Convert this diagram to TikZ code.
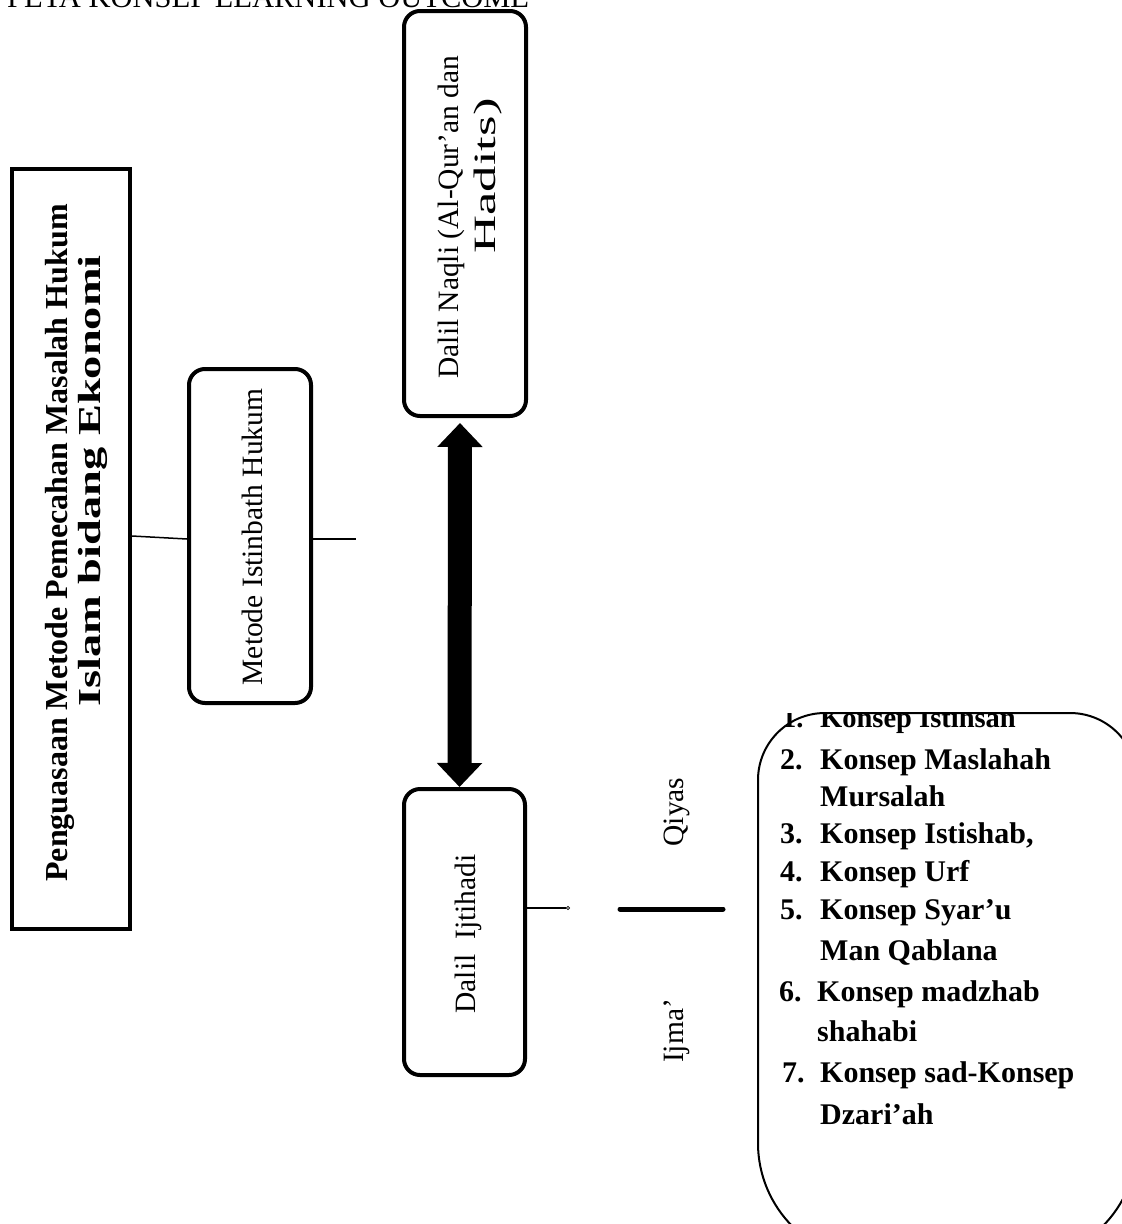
\documentclass[tikz,border=0pt]{standalone}
\usepackage{fontspec}
\setmainfont{Liberation Serif}
\usetikzlibrary{arrows.meta}
\begin{document}
\begin{tikzpicture}[x=1pt,y=-1pt,
  rbox/.style={draw, line width=4pt, rounded corners=16pt, inner sep=0pt},
  sbox/.style={draw, line width=4pt, inner sep=0pt},
  conn/.style={line width=1.5pt},
  vt/.style={rotate=90, anchor=base, inner sep=0pt, font=\fontsize{29.5}{34}\selectfont},
  vtb/.style={rotate=90, anchor=base, inner sep=0pt, font=\fontsize{32}{36}\selectfont\bfseries},
  lst/.style={anchor=base west, inner sep=0pt, font=\fontsize{30}{34}\selectfont\bfseries},
  bigarrow/.style={line width=24pt, {Triangle[width=44pt,length=24pt]}-{Triangle[width=44pt,length=24pt]}}
]
\useasboundingbox (0,0) rectangle (1122,1224);

% title (cut off at the top of the page)
\node[anchor=base west, inner sep=0pt, font=\fontsize{30.5}{34}\selectfont] (title) at (7,7) {PETA KONSEP LEARNING OUTCOME};

% boxes
\node[sbox, minimum width=118pt, minimum height=760pt] (main) at (71,549) {};
\node[rbox, minimum width=122pt, minimum height=334pt] (metode) at (250,536) {};
\node[rbox, minimum width=122pt, minimum height=405pt] (naqli) at (465,213.5) {};
\node[rbox, minimum width=121pt, minimum height=286pt] (ijtihadi) at (464.5,932) {};

% texts
\node[vtb] (mainA) at (67,543) {Penguasaan Metode Pemecahan Masalah Hukum};
\node[vtb] (mainB) at (100,481) {\addfontfeature{FakeStretch=1.45}Islam bidang Ekonomi};
\node[vt] (metodeT) at (262,537) {Metode Istinbath Hukum};
\node[vt] (naqliA) at (458,217) {Dalil Naqli (Al-Qur’an dan};
\node[vt, font=\fontsize{31}{34}\selectfont] (naqliB) at (495,176) {\addfontfeature{FakeStretch=1.7}Hadits)};
\node[vt] (ijtT) at (475,934) {Dalil\ \ Ijtihadi};
\node[vt] (qiyas) at (683,812) {Qiyas};
\node[vt] (ijma) at (683,1031) {Ijma’};

% connectors
\coordinate (mfree) at (356,539);
\coordinate (icirc) at (570,908);
\draw[conn] (main.east |- 0,536) -- (metode.west |- 0,539);
\draw[conn] (metode.east |- mfree) -- (mfree);
\draw[conn, -{Circle[open,length=4pt,width=4pt,line width=0.8pt]}] (ijtihadi.east |- icirc) -- (icirc);
\draw[bigarrow, shorten <=5pt] ([xshift=-5pt]naqli.south) -- ([xshift=-5pt]ijtihadi.north);

% thick bar
\coordinate (barA) at (620,909);
\coordinate (barB) at (723,909);
\draw[line width=5pt, line cap=round] (barA) -- (barB);

% list box
\draw[line width=2pt] (758,1143) -- (758,780) arc[start angle=180,end angle=270,radius=67]
  -- (1070,713) arc[start angle=270,end angle=360,radius=67]
  -- (1137,1143) arc[start angle=0,end angle=90,radius=118]
  -- (876,1261) arc[start angle=90,end angle=180,radius=118] -- cycle;
\begin{scope}
\clip (740,713) rectangle (1122,760);
\node[lst, font=\fontsize{28.5}{34}\selectfont\bfseries] (n1) at (782,727) {1.};
\node[lst, font=\fontsize{28.5}{34}\selectfont\bfseries] (t1) at (820,727) {Konsep Istihsan};
\end{scope}
\node[lst] (n2) at (780,769) {2.};
\node[lst] (t2) at (820,769) {Konsep Maslahah};
\node[lst] (t2b) at (820,806) {Mursalah};
\node[lst] (n3) at (780,843) {3.};
\node[lst] (t3) at (820,843) {Konsep Istishab,};
\node[lst] (n4) at (780,881) {4.};
\node[lst] (t4) at (820,881) {Konsep Urf};
\node[lst] (n5) at (780,919) {5.};
\node[lst] (t5) at (820,919) {Konsep Syar’u};
\node[lst] (t5b) at (820,960) {Man Qablana};
\node[lst] (n6) at (779,1001) {6.};
\node[lst] (t6) at (817,1001) {Konsep madzhab};
\node[lst] (t6b) at (817,1041) {shahabi};
\node[lst] (n7) at (782,1082) {7.};
\node[lst] (t7) at (820,1082) {Konsep sad-Konsep};
\node[lst] (t7b) at (820,1124) {Dzari’ah};
\end{tikzpicture}
\end{document}
